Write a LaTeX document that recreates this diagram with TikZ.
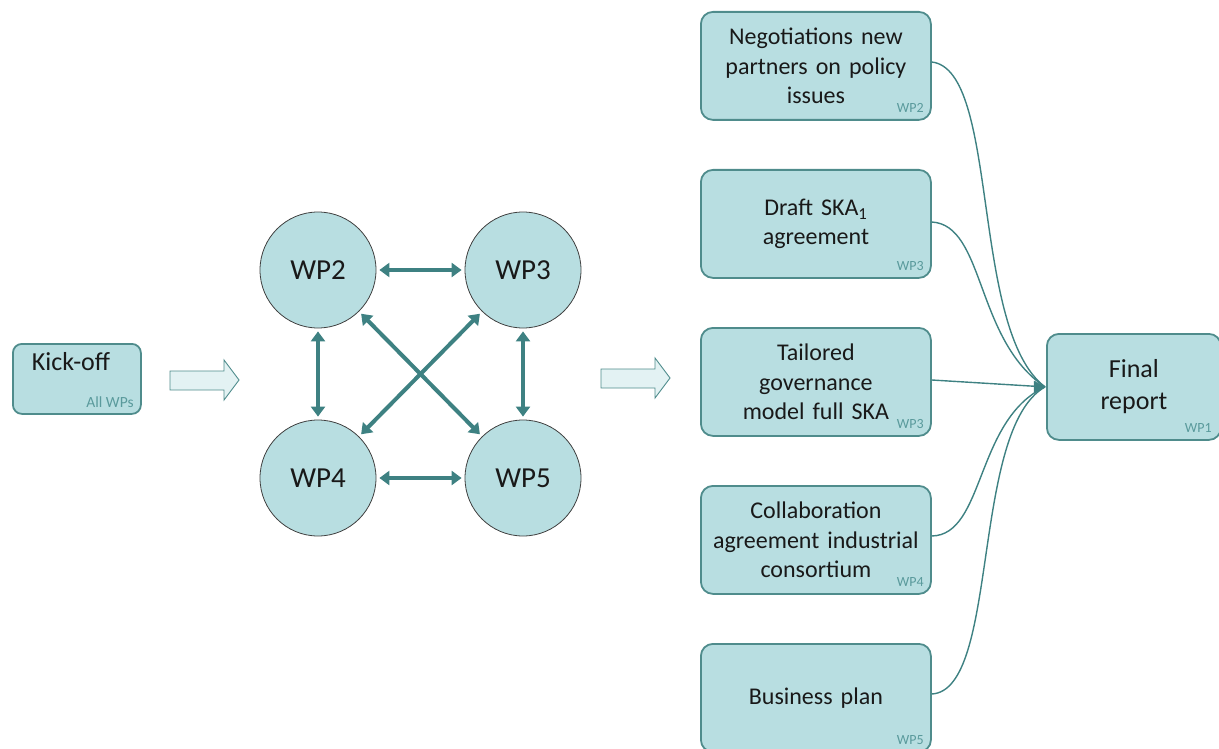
\documentclass[tikz,border=0pt]{standalone}
\usepackage{fontspec}
\setmainfont{Carlito}
\usetikzlibrary{arrows.meta,calc}
\definecolor{boxfill}{HTML}{B8DEE1}
\definecolor{boxline}{HTML}{4F8C8C}
\definecolor{arrowc}{HTML}{3E8182}
\definecolor{lightfill}{HTML}{E3F2F3}
\definecolor{wpc}{HTML}{5A9A9C}
\tikzset{
  taskbox/.style={draw=boxline, line width=1.8pt, fill=boxfill, rounded corners=12pt,
    minimum width=230pt, minimum height=108pt, align=center, text width=226pt, inner sep=0pt,
    font=\fontsize{24}{29.5}\selectfont, text=black!90},
  wpcircle/.style={circle, draw=black!75, line width=0.8pt, fill=boxfill, minimum size=116pt,
    font=\fontsize{29}{32}\selectfont, text=black!90},
  wplabel/.style={anchor=south east, text=wpc, font=\fontsize{14}{15}\selectfont, inner sep=0pt},
  dbl/.style={draw=arrowc, line width=4pt, {Triangle[length=10pt,width=14pt]}-{Triangle[length=10pt,width=14pt]}, shorten <=3pt, shorten >=3pt},
  feed/.style={draw=arrowc, line width=1.4pt},
  hollow/.style={draw=boxline, line width=0.9pt, fill=lightfill}
}
\begin{document}
\begin{tikzpicture}[x=1pt,y=-1pt]
\useasboundingbox (0,0) rectangle (1219,749);
% Kick-off
\node[taskbox, minimum width=128pt, minimum height=70pt, text width=110pt, rounded corners=9pt, anchor=north west] (kick) at (12,343) {};
\node[font=\fontsize{26}{28}\selectfont, text=black!90] (kicktxt) at (71,362) {Kick-off};
\node[wplabel, font=\fontsize{15.5}{16}\selectfont] (kicklbl) at ($(kick.south east)+(-8,-7)$) {All WPs};
% hollow arrows
\draw[hollow] (170,371) -- (224,371) -- (224,360) -- (239,380) -- (224,400) -- (224,390) -- (170,390) -- cycle;
\draw[hollow] (601,369) -- (655,369) -- (655,358) -- (670,378) -- (655,398) -- (655,388) -- (601,388) -- cycle;
% circles
\node[wpcircle] (wp2) at (318,270) {WP2};
\node[wpcircle] (wp3) at (523,270) {WP3};
\node[wpcircle] (wp4) at (318,478) {WP4};
\node[wpcircle] (wp5) at (523,478) {WP5};
\draw[dbl] (wp2) -- (wp3);
\draw[dbl] (wp4) -- (wp5);
\draw[dbl] (wp2) -- (wp4);
\draw[dbl] (wp3) -- (wp5);
\draw[dbl] (wp2) -- (wp5);
\draw[dbl] (wp3) -- (wp4);
% task boxes
\node[taskbox, anchor=north west] (b1) at (700,11) {Negotiations new\\partners on policy\\issues};
\node[wplabel] (l1) at ($(b1.south east)+(-8,-8)$) {WP2};
\node[taskbox, anchor=north west] (b2) at (700,169) {Draft SKA\textsubscript{1}\\agreement};
\node[wplabel] (l2) at ($(b2.south east)+(-8,-8)$) {WP3};
\node[taskbox, anchor=north west] (b3) at (700,327) {Tailored\\governance\\model full SKA};
\node[wplabel] (l3) at ($(b3.south east)+(-8,-8)$) {WP3};
\node[taskbox, anchor=north west] (b4) at (700,485) {Collaboration\\agreement industrial\\consortium};
\node[wplabel] (l4) at ($(b4.south east)+(-8,-8)$) {WP4};
\node[taskbox, anchor=north west] (b5) at (700,643) {Business plan};
\node[wplabel] (l5) at ($(b5.south east)+(-8,-8)$) {WP5};
% final report
\node[taskbox, anchor=north west, minimum width=174pt, text width=150pt, minimum height=106pt, font=\fontsize{26}{32}\selectfont] (fin) at (1046,333) {Final\\report};
\node[wplabel] (lf) at ($(fin.south east)+(-10,-8)$) {WP1};
% feeders
\coordinate (tip) at ($(fin.west)+(-1,0)$);
\draw[feed] (b1.east |- 0,62) .. controls (1000,70) and (970,330) .. (tip);
\draw[feed] (b2.east |- 0,222) .. controls (985,225) and (975,340) .. (tip);
\draw[feed] (b3.east |- 0,380) -- (tip);
\draw[feed] (b4.east |- 0,536) .. controls (985,535) and (975,420) .. (tip);
\draw[feed] (b5.east |- 0,694) .. controls (1000,690) and (970,430) .. (tip);
\draw[draw=arrowc, fill=arrowc] ($(tip)+(-11,-6)$) -- (tip) -- ($(tip)+(-11,6)$) -- cycle;
\end{tikzpicture}
\end{document}
